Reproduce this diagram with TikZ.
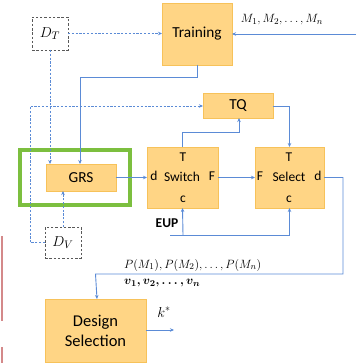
\documentclass[tikz,border=0pt]{standalone}
\usepackage{amsmath}
\usepackage{fontspec}
\setmainfont{Carlito}
\usetikzlibrary{arrows.meta}
\definecolor{boxfill}{HTML}{FFD585}
\definecolor{boxdraw}{HTML}{F7C25A}
\definecolor{lnblue}{HTML}{5B8BD6}
\definecolor{grn}{HTML}{7CBF3F}
\definecolor{redl}{HTML}{D4898A}
\tikzset{
  blk/.style={draw=boxdraw, fill=boxfill, line width=0.8pt, inner sep=0pt, outer sep=0pt, font=\fontsize{15.3}{17}\selectfont, align=center},
  dbox/.style={draw=black!65, dash pattern=on 2.5pt off 1.8pt, line width=0.9pt, inner sep=0pt, outer sep=0pt, minimum width=36pt, font=\fontsize{15}{17}\selectfont},
  conn/.style={draw=lnblue, line width=0.9pt, -{Stealth[length=4pt,width=3.5pt]}},
  dconn/.style={conn, dash pattern=on 2.2pt off 1.6pt},
  plain/.style={draw=lnblue, line width=0.9pt},
  lbl/.style={inner sep=0pt, font=\fontsize{13.5}{15}\selectfont},
  mlbl/.style={inner sep=0pt, font=\fontsize{13}{15}\selectfont}
}
\begin{document}
\begin{tikzpicture}[x=1pt,y=-1pt]
\useasboundingbox (0,0) rectangle (356,363);
\begin{scope}
\clip (0,0) rectangle (356,363);
% red marks at left edge
\draw[redl, line width=1.4pt] (2,236) -- (2,321);
\draw[redl, line width=1.4pt] (2,347) -- (2,365);

% boxes
\node[blk, minimum width=70pt, minimum height=62pt] (training) at (197,34) {Training};
\node[dbox, minimum height=33pt] (DT) at (50,33.5) {$D_T$};
\node[blk, minimum width=70pt, minimum height=25pt] (TQ) at (238,105.5) {TQ};
\node[draw=grn, line width=4.5pt, minimum width=110pt, minimum height=55pt, inner sep=0pt] (green) at (75,177.5) {};
\node[blk, minimum width=70pt, minimum height=27pt] (GRS) at (81,177.5) {GRS};
\node[blk, minimum width=71pt, minimum height=61pt] (switch) at (182.5,177.5) {};
\node[blk, minimum width=69pt, minimum height=61pt] (select) at (289.5,177.5) {};
\node[dbox, minimum height=31pt] (DV) at (63,242.5) {$D_V$};
\node[blk, minimum width=101pt, minimum height=63pt, font=\fontsize{16.5}{19}\selectfont] (DS) at (95.5,330.5) {Design\\[1pt]Selection};

% port labels
\node[lbl] (swT) at (183,157) {T};
\node[lbl] (swd) at (154,176) {d};
\node[lbl] (swname) at (182,177) {Switch};
\node[lbl] (swF) at (212,176) {F};
\node[lbl] (swc) at (183,199) {c};
\node[lbl] (seT) at (289,157) {T};
\node[lbl] (seF) at (260,176) {F};
\node[lbl] (sename) at (289,177) {Select};
\node[lbl] (sed) at (318,176) {d};
\node[lbl] (sec) at (289,199) {c};
\node[lbl, font=\fontsize{13.5}{15}\selectfont\bfseries] (EUP) at (167,223) {EUP};

% text labels
\node[mlbl] (Mlab) at (282,20) {$M_1, M_2, \dots, M_n$};
\node[mlbl, anchor=west] (Plab) at (124,265) {$P(M_1), P(M_2), \dots, P(M_n)$};
\node[mlbl, anchor=west] (vlab) at (124,283) {$\boldsymbol{v_1, v_2, \dots, v_n}$};
\node[mlbl, font=\fontsize{14}{16}\selectfont] (klab) at (164,312) {$k^{*}$};

% coordinates
\coordinate (Min) at (356,34);
\coordinate (eup) at (170,235);
\coordinate (kout) at (174,330);

% connectors
\draw[dconn] (DT.east) -- (DT.east -| training.west);
\draw[dconn] (DT.south) -- (DT.south |- GRS.north);
\draw[conn] (training.south) |- (80,77) -- (80,77 |- GRS.north);
\draw[dconn] (DV.west) -| (30,106) -- (TQ.west |- 0,106);
\draw[dconn] (DV.north) -- (DV.north |- GRS.south);
\draw[conn] (GRS.east) -- (GRS.east -| switch.west);
\draw[conn] (switch.north) |- (239,132) -- (239,132 |- TQ.south);
\draw[conn] (TQ.east |- 0,106) -| (select.north);
\draw[conn] (switch.east) -- (select.west);
\draw[plain] (eup) -- (183,235);
\draw[conn] (183,235) -- (switch.south);
\draw[conn] (183,235) -| (select.south);
\draw[conn] (select.east) -| (343,274) -| (97,274 -| DS.north) -- (97,299);
\draw[conn] (DS.east |- kout) -- (kout);
\draw[conn] (Min) -- (training.east);
\end{scope}
\end{tikzpicture}
\end{document}
